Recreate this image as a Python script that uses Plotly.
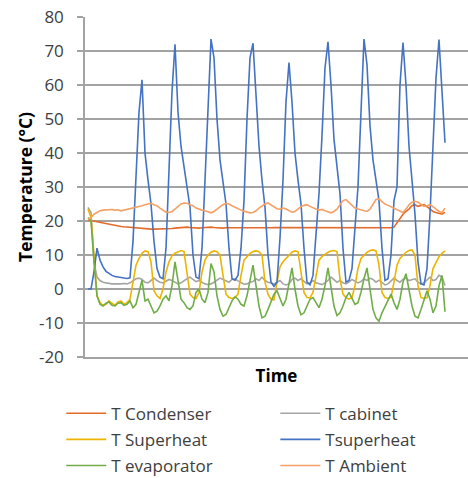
import plotly.graph_objects as go

time_index = list(range(120))

t_condenser = [20.2, 20.2, 20, 19.8, 19.6, 19.4, 19.2, 19, 18.9, 18.7,
               18.5, 18.4, 18.3, 18.2, 18.1, 18, 17.9, 17.8, 17.8, 17.7,
               17.7, 17.6, 17.6, 17.6, 17.6, 17.7, 17.7, 17.8, 17.8, 17.9,
               18, 18.1, 18.2, 18.2, 18.1, 18, 17.9, 17.9, 18, 18.1,
               18.2, 18.2, 18.1, 18, 17.9, 17.9, 18, 18, 18, 18,
               17.9, 17.9, 17.8, 17.8, 17.8, 17.9, 17.9, 17.8, 17.8, 17.8,
               17.9, 18, 18.1, 18.1, 18, 18, 17.9, 17.9, 18, 18,
               18, 18, 17.9, 17.9, 17.9, 18, 18, 18, 18, 17.9,
               17.9, 17.9, 18, 18, 18, 18, 18, 18, 18, 18,
               18, 18, 18, 18, 18, 18, 18, 18, 18, 18,
               18, 18, 18.2, 19.5, 21, 22, 22.8, 23.5, 24.5, 24.8,
               24.3, 24.6, 24.8, 24.2, 23.5, 22.8, 22.5, 22.2, 22, 22.6]

t_cabinet = [24, 22.5, 8, 3.5, 2.5, 2, 1.8, 1.6, 1.5, 1.5,
             1.4, 1.5, 1.6, 1.5, 1.8, 2.5, 3, 3.2, 2.8, 2,
             1.8, 2.5, 3.2, 2.5, 2, 1.8, 2.2, 2.8, 2.5, 2,
             1.5, 1.8, 2.5, 3, 3.5, 2.8, 2.2, 2.5, 2, 1.5,
             1.3, 1.5, 2, 2.5, 3.2, 2.8, 2.5, 2, 2.8, 3,
             2.4, 1.8, 1.4, 1.5, 2, 2.2, 3, 2.5, 3.5, 2.5,
             2, 1.8, 1.5, 2, 2.5, 1.5, 1.2, 1.5, 2.8, 3.2,
             2.5, 3, 2.2, 1.5, 1.8, 2.5, 1.8, 1.5, 1.3, 1.8,
             2.5, 3.5, 2.8, 2, 2.5, 1.8, 1.5, 2, 2.8, 2.2,
             1.8, 2.2, 3, 2.5, 3.2, 2.8, 2, 2.6, 1.8, 1.2,
             1.5, 2.5, 3.2, 2.5, 2, 2.8, 3.3, 2.5, 2.8, 3,
             2, 1.5, 1.8, 2.8, 3.5, 2.5, 2.8, 4, 3.5, 1]

t_superheat = [23.5, 21, 10, -2, -4, -4.8, -4.5, -3.5, -4.2, -4.8,
               -3.8, -3.5, -4.5, -4, -3, 2.5, 7, 9, 10.5, 11.2,
               11, 8, -0.5, -2, -2.8, 0, 5, 8, 9.8, 10.5,
               11, 11.3, 11, 4, -1.5, -2.5, -2.8, -1, 5, 8.5,
               10, 10.8, 11.2, 11, 10, 4, -1.5, -2.5, -2.8, -2.5,
               -1.5, 4, 8.5, 9.5, 10.5, 11, 11.2, 11, 10, 2,
               -1.5, -3, -3.2, 2, 6.5, 8, 9, 10, 10.8, 11.2,
               11, 5, -1, -2.5, -2.6, -1, 4, 8.5, 9.5, 10.2,
               10.8, 11.2, 11.3, 11, 3, -1.5, -2.5, -3, -2.5, 1,
               6, 9, 10, 10.8, 11.3, 11.5, 11.2, 7, -1, -2.5,
               -2.8, -2.5, 2, 7, 9, 10, 10.8, 11.3, 11.5, 10,
               1, -2.5, -2.8, -2.6, 1, 6, 8, 9.5, 10.5, 11.2]

tsuperheat = [0, 0, 5, 12, 8.5, 6.5, 5.2, 4.5, 4, 3.7,
              3.5, 3.3, 3.2, 3.1, 3.3, 14, 33, 52, 61.5, 40,
              32, 25, 14, 6, 3.5, 3, 12, 34, 58, 72,
              52, 42, 36, 30, 24, 10, 3.5, 3, 12, 32,
              52, 73.5, 68, 50, 38, 31, 25, 12, 3, 2.6,
              4, 12, 26, 50, 68, 72.3, 55, 42, 32, 24,
              10, 2, 0.8, 2, 15, 32, 55, 66.6, 55, 40,
              32, 25, 12, 2, 1.2, 4, 16, 28, 45, 65,
              72.7, 60, 44, 36, 28, 12, 2, 2.5, 6, 18,
              30, 52, 73.5, 66, 48, 38, 32, 26, 12, 2.5,
              3, 10, 26, 30, 60, 72.5, 60, 42, 32, 22,
              8, 1.5, 1.2, 6, 22, 40, 62, 73.4, 58, 43]

t_evaporator = [21, 20, 8, -2, -4.5, -5, -4.2, -3.8, -4.8, -5,
                -4.2, -4, -4.8, -4.5, -3.5, -5.5, -4.5, -1, 2.6, -3.5,
                -3, -5, -7, -6.5, -5, -3, -2, -3.5, 1, 8,
                3, -3, -4, -5.5, -6, -5, -1, 0, -3, -4,
                -1, 7.5, 5, -2, -6, -8, -7.5, -5.5, -3.5, -2.3,
                -3, -4.5, -5, -2, 3, 7, 1, -5, -8.5, -8,
                -6, -4, -1.5, -0.5, -3, -5, -3, 2, 6.2, 0,
                -5, -7.6, -7, -5, -3, -2.5, -4, -5.5, -3, 1,
                6.2, 1, -5, -7.8, -7, -5, -2.5, -1, -3, -4.5,
                -4, -1, 3, 6.2, 0, -6, -8.5, -9.5, -7, -5,
                -3, -1.5, -4, -6, -3, 2, 4.5, 0, -5, -8,
                -8.5, -6, -3, -0.5, -3, -7, -5, 1, 4, -6.7]

t_ambient = [20.5, 21, 22, 22.5, 23, 23.2, 23.3, 23.2, 23.4, 23.2,
             23.3, 23, 23.2, 23.3, 23.5, 23.8, 24, 24.2, 24.5, 24.8,
             25, 25.2, 24.8, 24.5, 23.8, 23.2, 22.6, 22.5, 22.8, 23.5,
             24.3, 25, 25.3, 25.2, 24.8, 24.5, 23.8, 23.4, 23.2, 23,
             22.6, 22.4, 22.8, 23.5, 24.3, 24.8, 25.2, 25, 24.5, 24,
             23.5, 23.2, 22.9, 22.6, 22.4, 22.5, 23, 23.8, 24.5, 25,
             25.3, 24.8, 24.2, 23.6, 23.5, 23.8, 23.5, 23, 22.6, 22.8,
             23.5, 24.2, 24.6, 24.8, 24.3, 23.8, 23.5, 23.2, 23.4, 23,
             22.6, 22.4, 22.8, 23.5, 24.8, 26, 26.3, 25.5, 24.5, 23.8,
             23.5, 23.2, 23, 22.8, 23.5, 25, 26.3, 26.5, 25.8, 25,
             24.6, 24.2, 23.8, 23.2, 22.8, 22.5, 23.5, 24.8, 25.5, 25.8,
             25.5, 24.8, 24.3, 24.5, 24.8, 24.2, 23.5, 22.8, 22.5, 23.8]

series_names = ["T Condenser", "T cabinet", "T Superheat", "Tsuperheat", "T evaporator", "T Ambient"]
series_values = [t_condenser, t_cabinet, t_superheat, tsuperheat, t_evaporator, t_ambient]
series_colors = ["#E46C2A", "#A5A5A5", "#EEB400", "#4472C4", "#70AD47", "#F5A064"]
series_legend = ["legend", "legend2", "legend", "legend2", "legend", "legend2"]

y_ticks = [-20, -10, 0, 10, 20, 30, 40, 50, 60, 70, 80]

FONT = "Open Sans"
GRID = "#A3A3A3"

fig = go.Figure()
for name, vals, col, lg in zip(series_names, series_values, series_colors, series_legend):
    fig.add_trace(go.Scatter(
        x=time_index, y=vals, mode="lines", name=name,
        line=dict(color=col, width=1.6),
        legend=lg, legendgroup=name,
    ))

legend_common = dict(
    orientation="v", bgcolor="rgba(0,0,0,0)", borderwidth=0,
    font=dict(family=FONT, size=17, color="#404040"),
    tracegroupgap=1, xanchor="left", yanchor="top", itemwidth=40,
)

fig.update_layout(
    width=468, height=478,
    margin=dict(l=85, r=0, t=17, b=121, autoexpand=False),
    paper_bgcolor="white", plot_bgcolor="white",
    font=dict(family=FONT, size=17, color="#404040"),
    showlegend=True,
    legend=dict(x=-0.062, y=-0.114, **legend_common),
    legend2=dict(x=0.497, y=-0.114, **legend_common),
    xaxis=dict(
        range=[-1, 126.67], showgrid=False, zeroline=False,
        showticklabels=False, ticks="",
        showline=True, linecolor=GRID, linewidth=1.5,
        title=dict(text="<b>Time</b>", font=dict(family=FONT, size=17, color="#000000"), standoff=12),
    ),
    yaxis=dict(
        range=[-20, 80], tickvals=y_ticks, ticktext=[str(v) for v in y_ticks],
        showgrid=True, gridcolor=GRID, gridwidth=1.5, zeroline=False,
        showline=True, linecolor=GRID, linewidth=1.5,
        ticks="outside", ticklen=6, tickcolor=GRID, tickwidth=1.5,
        ticklabelstandoff=10,
        tickfont=dict(family=FONT, size=17, color="#404040"),
        title=dict(text="<b>Temperature (°C)</b>", font=dict(family=FONT, size=17.5, color="#000000"), standoff=2),
    ),
)

fig.write_html("out.html")
